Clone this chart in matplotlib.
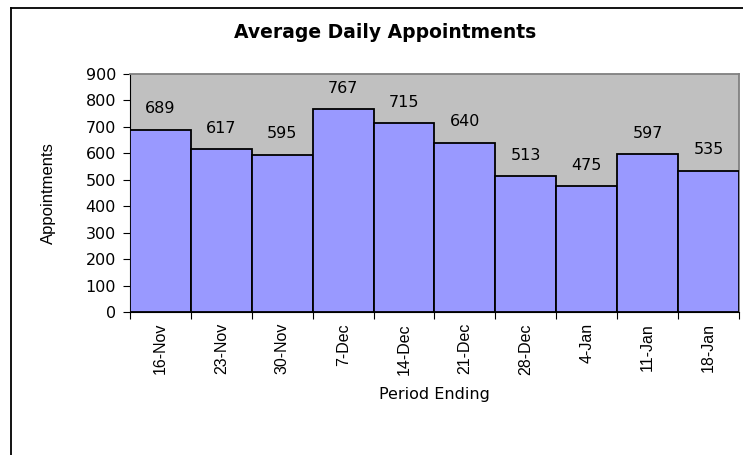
import matplotlib.pyplot as plt
import numpy as np
from matplotlib.lines import Line2D

plt.rcParams['font.family'] = ['DejaVu Sans']

# data
periods = ["16-Nov", "23-Nov", "30-Nov", "7-Dec", "14-Dec", "21-Dec", "28-Dec", "4-Jan", "11-Jan", "18-Jan"]
appointments = [689, 617, 595, 767, 715, 640, 513, 475, 597, 535]
yticks = [0, 100, 200, 300, 400, 500, 600, 700, 800, 900]

fig = plt.figure(figsize=(7.43, 4.55), dpi=100)
W, H = 743, 455
# plot area in pixels: left 130, right 739, top 74, bottom 312
ax = fig.add_axes([130 / W, 1 - 312 / H, (739 - 130) / W, (312 - 74) / H])
ax.set_facecolor("#C0C0C0")

x = np.arange(len(periods))
ax.bar(x, appointments, width=1.0, color="#9999FF", edgecolor="black", linewidth=1.3, zorder=3)

for xi, v in zip(x, appointments):
    ax.annotate(str(v), (xi, v), xytext=(0, 15), textcoords="offset points",
                ha="center", va="center", fontsize=11.5)

ax.set_xlim(-0.5, len(periods) - 0.5)
ax.set_ylim(0, 900)
ax.set_yticks(yticks)
ax.tick_params(axis="y", direction="out", length=5, width=0.8, labelsize=11.5, pad=5)

ax.set_xticks(x)
ax.set_xticklabels(periods, rotation=90, fontsize=11.5, family="Liberation Sans")
ax.set_xticks(np.arange(-0.5, len(periods)), minor=True)
ax.tick_params(axis="x", which="major", length=0, pad=8)
ax.tick_params(axis="x", which="minor", direction="out", length=5, width=0.8)

for s in ["top", "right"]:
    ax.spines[s].set_color("#808080")
    ax.spines[s].set_linewidth(1.3)
for s in ["left", "bottom"]:
    ax.spines[s].set_color("black")
    ax.spines[s].set_linewidth(0.8)

ax.set_ylabel("Appointments", fontsize=12, family="Liberation Sans", va="center")
ax.yaxis.set_label_coords(-0.1346, 0.5)
ax.set_xlabel("Period Ending", fontsize=11.5, va="center")
ax.xaxis.set_label_coords(0.5, -0.345)

fig.text(385 / W, 1 - 33 / H, "Average Daily Appointments", ha="center", va="center",
         fontsize=13.5, fontweight="bold")

# chart area border (top and left visible)
fig.add_artist(Line2D([11 / W, 1], [1 - 8 / H, 1 - 8 / H], color="black", linewidth=1.3,
                      transform=fig.transFigure))
fig.add_artist(Line2D([11 / W, 11 / W], [0, 1 - 8 / H], color="black", linewidth=1.3,
                      transform=fig.transFigure))

fig.savefig("out.png", dpi=100)
